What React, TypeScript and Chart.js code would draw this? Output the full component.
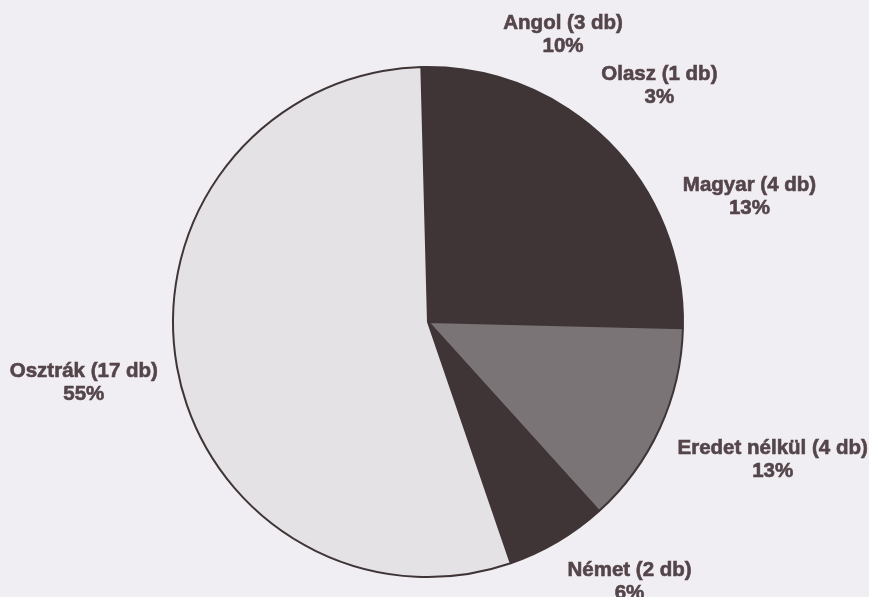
import React, { useEffect, useRef } from "react";
import { Chart, registerables } from "chart.js";

Chart.register(...registerables);

const categories = ["Angol", "Olasz", "Magyar", "Eredet nélkül", "Német", "Osztrák"];
const counts = [3, 1, 4, 4, 2, 17];
const sliceColors = ["#3f3537", "#3f3537", "#3f3537", "#7b7476", "#3f3537", "#e5e2e6"];

const labelPlugin = {
  id: "outsideLabels",
  afterDatasetsDraw(chart: any) {
    const ctx = chart.ctx;
    const meta = chart.getDatasetMeta(0);
    const total = counts.reduce((a, b) => a + b, 0);
    ctx.save();
    ctx.font = "bold 20.5px 'Liberation Sans', Arial, sans-serif";
    ctx.fillStyle = "#54454a";
    ctx.strokeStyle = "#54454a";
    ctx.lineWidth = 0.6;
    ctx.textAlign = "center";
    ctx.textBaseline = "middle";
    const lineH = 23;
    meta.data.forEach((arc: any, i: number) => {
      const { x, y, startAngle, endAngle, outerRadius } = arc.getProps(
        ["x", "y", "startAngle", "endAngle", "outerRadius"],
        true
      );
      const mid = (startAngle + endAngle) / 2;
      const ux = Math.cos(mid);
      const uy = Math.sin(mid);
      const r = outerRadius + 19.5;
      const ax = x + r * ux;
      const ay = y + r * uy;
      const line1 = `${categories[i]} (${counts[i]} db)`;
      const line2 = `${Math.round((counts[i] / total) * 100)}%`;
      const w = Math.max(ctx.measureText(line1).width, ctx.measureText(line2).width);
      const hw = w / 2;
      const hh = lineH;
      const cx = ax + Math.sign(ux) * hw;
      const cy = ay + hh * Math.max(-1, Math.min(1, uy * 3));
      ctx.fillText(line1, cx, cy - lineH / 2);
      ctx.strokeText(line1, cx, cy - lineH / 2);
      ctx.fillText(line2, cx, cy + lineH / 2);
      ctx.strokeText(line2, cx, cy + lineH / 2);
    });
    ctx.restore();
  },
};

export default function App() {
  const ref = useRef<HTMLCanvasElement | null>(null);
  useEffect(() => {
    if (!ref.current) return;
    const chart = new Chart(ref.current, {
      type: "pie",
      data: {
        labels: categories,
        datasets: [
          {
            data: counts,
            backgroundColor: sliceColors,
            borderColor: "#3f3537",
            borderWidth: 2,
          },
        ],
      },
      options: {
        responsive: false,
        animation: false,
        rotation: -1.5,
        layout: { padding: { top: 66, bottom: 19, left: 100, right: 113 } },
        plugins: {
          legend: { display: false },
          tooltip: { enabled: false },
        },
      },
      plugins: [labelPlugin],
    });
    return () => chart.destroy();
  }, []);
  return (
    <div
      style={{
        position: "fixed",
        left: 0,
        top: 0,
        width: 869,
        height: 597,
        background: "#f0eef2",
      }}
    >
      <canvas ref={ref} width={869} height={597} />
    </div>
  );
}
